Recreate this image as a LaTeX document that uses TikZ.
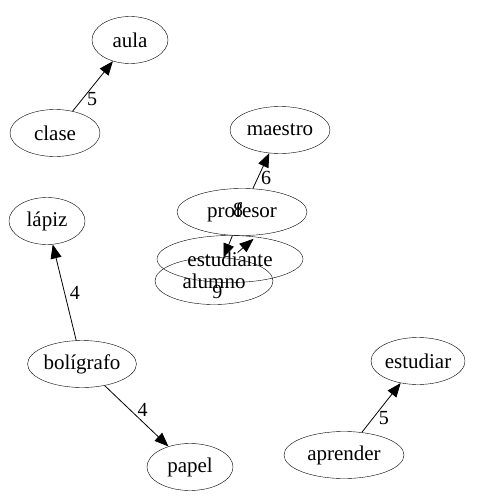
\documentclass[tikz,border=0pt]{standalone}
\usepackage{fontspec}
\setmainfont{Liberation Serif}
\usetikzlibrary{shapes.geometric,arrows.meta}
\tikzset{
  word/.style  = { draw, ellipse, inner sep=0pt, minimum height=47pt, font=\fontsize{21}{23}\selectfont },
  link/.style  = { -{Triangle[length=14pt,width=11pt]}, thick },
  weight/.style= { font=\fontsize{20}{22}\selectfont, inner sep=1pt }
}

\begin{document}
\begin{tikzpicture}[x=1pt,y=-1pt]
    \useasboundingbox (0,0) rectangle (481,501);

    \node[word, minimum width=76pt]  (aula)       at (130,40)  {aula};
    \node[word, minimum width=90pt]  (clase)      at (55,133)  {clase};
    \node[word, minimum width=100pt] (maestro)    at (280,130) {maestro};
    \node[word, minimum width=130pt] (profesor)   at (242,212) {profesor};
    \node[word, minimum width=146pt] (estudiante) at (230,259) {estudiante};
    \node[word, minimum width=118pt] (alumno)     at (214,281) {alumno};
    \node[word, minimum width=76pt]  (lapiz)      at (47,221)  {lápiz};
    \node[word, minimum width=104pt] (boligrafo)  at (82,364)  {bolígrafo};
    \node[word, minimum width=86pt]  (papel)      at (190,467) {papel};
    \node[word, minimum width=94pt]  (estudiar)   at (418,361) {estudiar};
    \node[word, minimum width=120pt] (aprender)   at (344,455) {aprender};

    \draw[link] (clase) -- node[weight, pos=0.25, right=3pt] {5} (aula);
    \draw[link] (profesor) -- node[weight, pos=0.3, right=2pt] {6} (maestro);
    \draw[link] (boligrafo) -- node[weight, pos=0.5, right=4pt] {4} (lapiz);
    \draw[link] (boligrafo) -- node[weight, pos=0.4, right=6pt] {4} (papel);
    \draw[link] (aprender) -- node[weight, pos=0.3, right=4pt] {5} (estudiar);

    \draw[link, shorten <=10pt, shorten >=6pt] (estudiante.center) -- node[weight, pos=1, xshift=-20pt, yshift=25pt] {8} (profesor.-55);
    \draw[link] (profesor) -- node[weight, pos=1, xshift=-6pt, yshift=-34pt] {9} (alumno);
\end{tikzpicture}
\end{document}
